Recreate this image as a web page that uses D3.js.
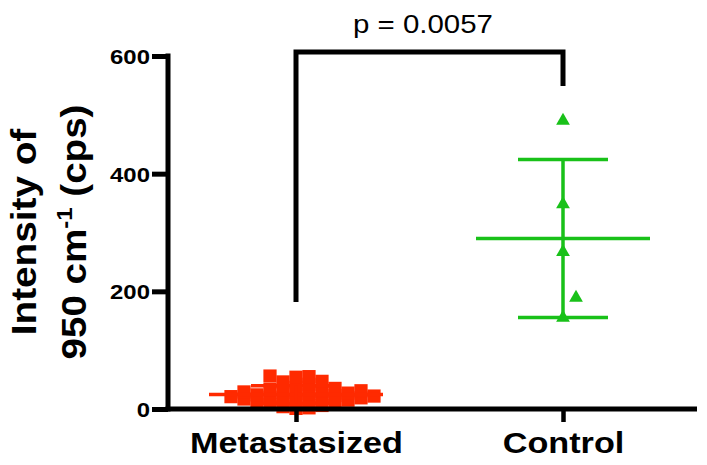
<!DOCTYPE html>
<html><head><meta charset="utf-8">
<script src="https://cdn.jsdelivr.net/npm/d3@7"></script>
<style>body{margin:0;background:#fff}svg{display:block}</style>
</head><body>
<svg id="chart" width="707" height="465"></svg>
<script>
// ---- data ----
const categories = ["Metastasized", "Control"];
const metastasizedValues = [1, 2, 4, 6, 8, 11, 12, 13, 14, 15, 16, 17, 18, 19,
  20, 21, 22, 23, 24, 25, 26, 27, 28, 29, 30, 31, 33, 35, 37, 42, 46, 47, 54, 55, 56];
const controlValues = [155, 189, 267, 348, 490];
const yTicks = [0, 200, 400, 600];
const yTitleLine1 = "Intensity of";
const yTitleLine2a = "950 cm";
const yTitleSup = "-1";
const yTitleLine2b = " (cps)";
const pValueLabel = "p = 0.0057";
const bracketLegEnds = [182, 549];
const bracketTop = 607;
const groupColors = ["#ff2a00", "#19c119"];

// ---- layout ----
const svg = d3.select("#chart");
const FONT = "'Liberation Sans', Arial, Helvetica, sans-serif";
const x = d3.scalePoint().domain(categories).range([296, 563]);
const y = d3.scaleLinear().domain([0, 600]).range([409, 56]);

// beeswarm placement
function swarm(values, cx, step, hgap, vgap) {
  const pts = [];
  const sorted = values.slice().sort((a, b) => a - b);
  for (const v of sorted) {
    const py = y(v);
    let off = 0;
    for (let i = 0; i < 400; i++) {
      const k = i === 0 ? 0 : (i % 2 === 1 ? (i + 1) / 2 : -i / 2);
      off = k * step;
      const hit = pts.some(p => Math.abs(p.x - (cx + off)) < hgap - 0.01 && Math.abs(p.y - py) < vgap);
      if (!hit) break;
    }
    pts.push({ v, x: cx + off, y: py });
  }
  return pts;
}

const groups = [
  { name: categories[0], values: metastasizedValues, color: groupColors[0], symbol: d3.symbolSquare, size: 175, step: 6.5, hgap: 13, vgap: 7 },
  { name: categories[1], values: controlValues, color: groupColors[1], symbol: d3.symbolTriangle, size: 82, step: 6.5, hgap: 13, vgap: 21 }
];

// points
groups.forEach(g => {
  const cx = x(g.name);
  const pts = swarm(g.values, cx, g.step, g.hgap, g.vgap);
  svg.append("g").selectAll("path").data(pts).join("path")
    .attr("d", d3.symbol().type(g.symbol).size(g.size))
    .attr("transform", d => `translate(${d.x},${d.y})`)
    .attr("fill", g.color);
});

// mean & SD
groups.forEach(g => {
  const cx = x(g.name);
  const m = d3.mean(g.values), s = d3.deviation(g.values);
  const gg = svg.append("g").attr("stroke", g.color).attr("stroke-width", 3.5);
  gg.append("line").attr("x1", cx - 87).attr("x2", cx + 87).attr("y1", y(m)).attr("y2", y(m));
  gg.append("line").attr("x1", cx - 45).attr("x2", cx + 45).attr("y1", y(m + s)).attr("y2", y(m + s));
  gg.append("line").attr("x1", cx - 45).attr("x2", cx + 45).attr("y1", y(m - s)).attr("y2", y(m - s));
  gg.append("line").attr("x1", cx).attr("x2", cx).attr("y1", y(m + s)).attr("y2", y(Math.max(m - s, 0)));
});

// y axis
const yAxisG = svg.append("g").attr("transform", "translate(168,0)")
  .call(d3.axisLeft(y).tickValues(yTicks).tickSize(16).tickPadding(2).tickSizeOuter(0));
yAxisG.select(".domain").remove();
yAxisG.attr("font-family", null).attr("font-size", null);
yAxisG.selectAll(".tick line").attr("stroke", "#000").attr("stroke-width", 5);
yAxisG.selectAll(".tick text").attr("fill", "#000")
  .attr("font-family", FONT).attr("font-size", 21).attr("font-weight", "bold").attr("dy", "0.36em")
  .each(function(){ const w = this.getComputedTextLength(); d3.select(this).attr("textLength", w * 1.14).attr("lengthAdjust", "spacingAndGlyphs"); });
svg.append("line").attr("x1", 168).attr("x2", 168).attr("y1", y(0) + 2.5).attr("y2", y(600) - 2.5)
  .attr("stroke", "#000").attr("stroke-width", 5);

// x axis
const xAxisG = svg.append("g").attr("transform", `translate(0,${y(0)})`)
  .call(d3.axisBottom(x).tickSize(13).tickPadding(10).tickSizeOuter(0));
xAxisG.select(".domain").remove();
xAxisG.attr("font-family", null).attr("font-size", null);
xAxisG.selectAll(".tick line").attr("stroke", "#000").attr("stroke-width", 4.5);
xAxisG.selectAll(".tick text").attr("fill", "#000")
  .attr("font-family", FONT).attr("font-size", 29).attr("font-weight", "bold").attr("dy", "0.71em")
  .each(function(){ const w = this.getComputedTextLength(); d3.select(this).attr("textLength", w * 1.18).attr("lengthAdjust", "spacingAndGlyphs"); });
svg.append("line").attr("x1", 165.5).attr("x2", 697).attr("y1", y(0)).attr("y2", y(0))
  .attr("stroke", "#000").attr("stroke-width", 5);

// y title
function rotTitle(px, build, targetLen, sy) {
  const g = svg.append("g").attr("transform", `translate(${px},232) rotate(-90)`);
  const t = g.append("text").attr("text-anchor", "middle").attr("fill", "#000")
    .attr("font-family", FONT).attr("font-size", 29).attr("font-weight", "bold");
  build(t);
  const w = t.node().getBBox().width;
  t.attr("transform", `scale(${targetLen / w},${sy})`);
}
rotTitle(36, t => t.text(yTitleLine1), 207, 1.2);
rotTitle(86, t => {
  t.append("tspan").text(yTitleLine2a);
  t.append("tspan").attr("font-size", 18).attr("dy", -12).text(yTitleSup);
  t.append("tspan").attr("dy", 12).text(yTitleLine2b);
}, 255, 1.2);

// significance bracket
const bx0 = x(categories[0]), bx1 = x(categories[1]);
svg.append("path")
  .attr("d", `M${bx0},${y(bracketLegEnds[0])}V${y(bracketTop)}H${bx1}V${y(bracketLegEnds[1])}`)
  .attr("fill", "none").attr("stroke", "#000").attr("stroke-width", 5).attr("stroke-linejoin", "miter");
svg.append("text").attr("x", 423).attr("y", 33).attr("text-anchor", "middle")
  .attr("fill", "#000").attr("font-family", FONT).attr("font-size", 25)
  .attr("textLength", 140).attr("lengthAdjust", "spacingAndGlyphs").text(pValueLabel);
</script>
</body></html>
